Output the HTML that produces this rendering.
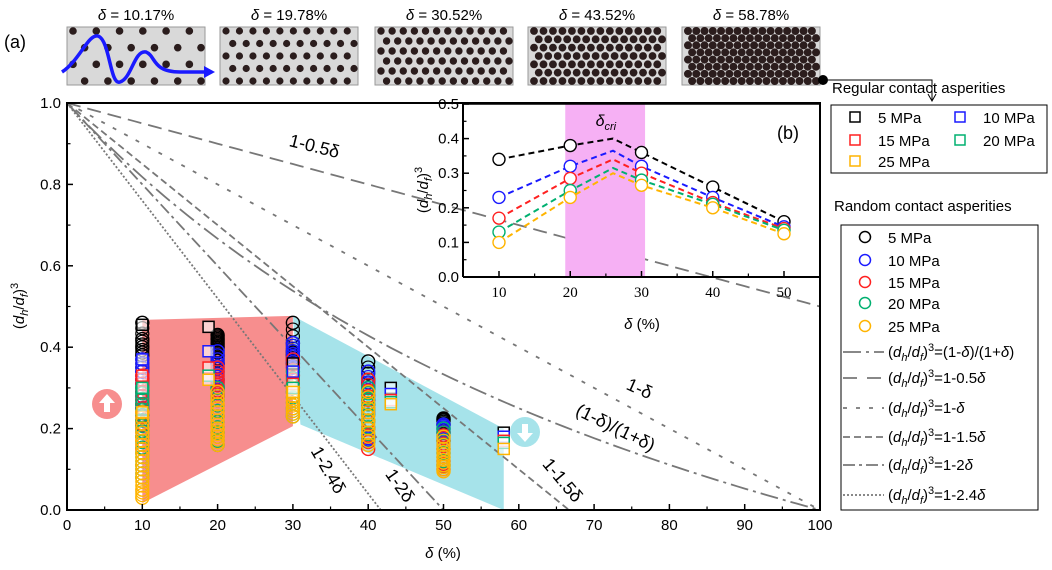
<!DOCTYPE html>
<html><head><meta charset="utf-8"><style>
html,body{margin:0;padding:0;background:#fff;width:1052px;height:570px;overflow:hidden;}
svg{display:block;font-family:"Liberation Sans",Arial,sans-serif;}
</style></head><body>
<svg id="fig" width="1052" height="570" viewBox="0 0 1052 570" xmlns="http://www.w3.org/2000/svg">
<g id="topg"></g>
<g id="main"></g>
<g id="inset"></g>
<g id="legends"></g>
</svg>
<script>
// ---------- data ----------
const panelDeltas = ["10.17","19.78","30.52","43.52","58.78"];
const pressures = ["5 MPa","10 MPa","15 MPa","20 MPa","25 MPa"];
const colors = ["#000000","#1a1aff","#ff2020","#00b070","#ffb400"];
// random asperities (circles), per delta column, per pressure
const randDeltas = [10,20,30,40,50];
const rand5  = [[0.46,0.42,0.40,0.38,0.35,0.32,0.29,0.26],[0.43,0.42,0.41,0.40,0.38,0.36],[0.46,0.41,0.39,0.38,0.36],[0.365,0.32,0.30],[0.225,0.22,0.21]];
const rand10 = [[0.37,0.34,0.31,0.28,0.25,0.22,0.20],[0.39,0.36,0.34,0.32,0.30,0.28],[0.41,0.39,0.37,0.35],[0.34,0.30,0.27,0.24,0.18,0.17],[0.21,0.20,0.19,0.17]];
const rand15 = [[0.33,0.30,0.27,0.24,0.21,0.18,0.15],[0.35,0.32,0.30,0.28],[0.37,0.33,0.30],[0.32,0.28,0.25,0.20,0.15],[0.19,0.17,0.15,0.12,0.10]];
const rand20 = [[0.30,0.26,0.22,0.18,0.14,0.11,0.08],[0.30,0.27,0.23,0.19,0.16],[0.34,0.29,0.25,0.23],[0.30,0.26,0.22,0.17],[0.20,0.17,0.14,0.11]];
const rand25 = [[0.24,0.20,0.17,0.14,0.11,0.08,0.05,0.03],[0.29,0.26,0.23,0.20,0.18,0.16],[0.30,0.27,0.25,0.23],[0.29,0.25,0.22,0.19,0.16],[0.18,0.15,0.13,0.11,0.095]];
// regular asperities (squares)
const regDeltas = [10,18.8,30,43,58];
const reg5  = [0.455,0.45,0.36,0.30,0.19];
const reg10 = [0.37,0.39,0.34,0.285,0.18];
const reg15 = [0.33,0.35,0.31,0.27,0.17];
const reg20 = [0.30,0.33,0.30,0.265,0.165];
const reg25 = [0.24,0.32,0.29,0.26,0.15];
// inset (mean values)
const insetX = [10,20,26,30,40,50];
const inset5  = [0.34,0.38,0.40,0.36,0.26,0.16];
const inset10 = [0.23,0.32,0.365,0.32,0.23,0.145];
const inset15 = [0.17,0.285,0.34,0.30,0.215,0.14];
const inset20 = [0.13,0.25,0.315,0.28,0.21,0.135];
const inset25 = [0.10,0.23,0.30,0.265,0.20,0.125];
const xTicks = [0,10,20,30,40,50,60,70,80,90,100];
const yTicks = [0.0,0.2,0.4,0.6,0.8,1.0];
const insetXTicks = [10,20,30,40,50];
const insetYTicks = [0.0,0.1,0.2,0.3,0.4,0.5];
const lineSlopes = [0.5,1,1.5,2,2.4];

const NS="http://www.w3.org/2000/svg";
function mk(tag,attrs,parent,text){const e=document.createElementNS(NS,tag);for(const k in attrs)e.setAttribute(k,attrs[k]);if(text!==undefined)e.textContent=text;parent.appendChild(e);return e;}

// ---------- top panels ----------
const topG=document.getElementById('topg');
const boxX=[67,220,375,528,682], boxW=138, boxY=27, boxH=58;
const cols=[6,10,12,14,16], rows=[4,5,6,7,8];
panelDeltas.forEach((d,i)=>{
  const g=mk('g',{},topG);
  
  
  mk('rect',{x:boxX[i],y:boxY,width:boxW,height:boxH,fill:'#d9d9d9',stroke:'#999','stroke-width':1},g);
  const t=mk('text',{x:boxX[i]+boxW/2,y:20,'text-anchor':'middle','font-size':15},g);
  
  
  mk('tspan',{'font-style':'italic'},t,'δ');mk('tspan',{},t,' = '+d+'%');
  const nc=cols[i],nr=rows[i];const dx=(boxW-10)/(nc-0.5),dy=(boxH-8)/(nr-1);
  const rad=[3.8,3.6,3.7,3.9,4.0][i];
  for(let c=0;c<nc;c++)for(let k=0;k<nr;k++){
    const off=(k%2)?dx/2:0;
    mk('circle',{cx:boxX[i]+6+c*dx+off,cy:boxY+4+k*dy,r:rad,fill:'#2b1d1d'},g);
  }
});
mk('text',{x:4,y:48,'font-size':18,},topG,'(a)');
mk('path',{d:'M62,72 C80,60 88,34 98,36 C110,40 110,86 120,82 C132,78 134,50 146,52 C156,56 152,72 180,72 L204,72',fill:'none',stroke:'#1a1aff','stroke-width':3.5,},topG);
mk('path',{d:'M204,66 L215,72 L204,78 Z',fill:'#1a1aff'},topG);
mk('circle',{cx:823,cy:80,r:5,fill:'#000'},topG);
mk('path',{d:'M823,80 L932,80 L932,100',fill:'none',stroke:'#000','stroke-width':1},topG);
mk('path',{d:'M928,94 L932,101 L936,94',fill:'none',stroke:'#000','stroke-width':1},topG);

// ---------- main chart ----------
const mainG=document.getElementById('main');
const X0=67,X1=820,Y0=510,Y1=103;
const xs=v=>X0+(v/100)*(X1-X0), ys=v=>Y0-v*(Y0-Y1);
const redFill=[[10,0.467],[30,0.477],[30,0.206],[10,0.017]];
const cyanFill=[[30,0.477],[58,0.2],[58,0.0],[31,0.21]];
let pp=mk('polygon',{points:redFill.map(a=>xs(a[0])+','+ys(a[1])).join(' '),fill:'#f78e8e'},mainG);


pp=mk('polygon',{points:cyanFill.map(a=>xs(a[0])+','+ys(a[1])).join(' '),fill:'#a6e3ea'},mainG);


const dashes={'0.5':'14,7','1':'4,9','1.5':'7,4','2':'12,4,3,4','2.4':'2,2'};
const clipP=mk('clipPath',{id:'mclip'},mainG);mk('rect',{x:X0,y:Y1,width:X1-X0,height:Y0-Y1},clipP);
const lg=mk('g',{'clip-path':'url(#mclip)'},mainG);
lineSlopes.forEach(s=>{
  const pts=[];for(let d=0;d<=100;d+=1){pts.push(xs(d)+','+ys(1-s*d/100));}
  const l=mk('polyline',{points:pts.join(' '),fill:'none',stroke:'#777','stroke-width':1.8,'stroke-dasharray':dashes[String(s)]},lg);
  
  
});
{const pts=[];for(let d=0;d<=100;d+=1){const f=d/100;pts.push(xs(d)+','+ys((1-f)/(1+f)));}
 const l=mk('polyline',{points:pts.join(' '),fill:'none',stroke:'#777','stroke-width':1.8,'stroke-dasharray':'18,5,3,5'},lg);
 
 }
function arrowCircle(cx,cy,fill,up,name){
  const g=mk('g',{},mainG);
  
  
  mk('circle',{cx,cy,r:15,fill},g);
  const s=up?-1:1;
  mk('path',{d:`M${cx-3},${cy-8*s} L${cx+3},${cy-8*s} L${cx+3},${cy+1*s} L${cx+8},${cy+1*s} L${cx},${cy+10*s} L${cx-8},${cy+1*s} L${cx-3},${cy+1*s} Z`,fill:'#fff'},g);
}
arrowCircle(107,404,'#f78e8e',true,'increase-arrow');
arrowCircle(525,432,'#a6e3ea',false,'decrease-arrow');
const randSeries=[rand5,rand10,rand15,rand20,rand25];
randSeries.forEach((ser,pi)=>{
  ser.forEach((vals,ci)=>{
    vals.forEach(v=>{
      const c=mk('circle',{cx:xs(randDeltas[ci]),cy:ys(v),r:6.5,fill:'none',stroke:colors[pi],'stroke-width':1.4},mainG);
      
      
    });
    for(let k=0;k<vals.length-1;k++){const a=vals[k],b=vals[k+1];
      for(let t=1;t<3;t++){const v=a+(b-a)*t/3;
        mk('circle',{cx:xs(randDeltas[ci]),cy:ys(v),r:6.5,fill:'none',stroke:colors[pi],'stroke-width':1.2},mainG);}}
  });
});
const regSeries=[reg5,reg10,reg15,reg20,reg25];
regSeries.forEach((ser,pi)=>{
  ser.forEach((v,ci)=>{
    const r=mk('rect',{x:xs(regDeltas[ci])-5.5,y:ys(v)-5.5,width:11,height:11,fill:'#fff','fill-opacity':0.6,stroke:colors[pi],'stroke-width':1.5},mainG);
    
    
  });
});
function lbl(x,y,rot,text,name){
  const t=mk('text',{x,y,'font-size':18,'text-anchor':'middle',transform:`rotate(${rot} ${x} ${y})`},mainG,text);
  
  
}
lbl(313,152,14,'1-0.5δ','label-1-0.5delta');
lbl(637,394,24,'1-δ','label-1-delta');
lbl(613,433,26,'(1-δ)/(1+δ)','label-ratio');
lbl(558,484,50,'1-1.5δ','label-1-1.5delta');
lbl(395,489,55,'1-2δ','label-1-2delta');
lbl(323,473,60,'1-2.4δ','label-1-2.4delta');
mk('rect',{x:X0,y:Y1,width:X1-X0,height:Y0-Y1,fill:'none',stroke:'#000','stroke-width':2},mainG);
xTicks.forEach(v=>{
  mk('line',{x1:xs(v),x2:xs(v),y1:Y0,y2:Y0-6,stroke:'#000','stroke-width':1.5},mainG);
  if(v<100)mk('line',{x1:xs(v+5),x2:xs(v+5),y1:Y0,y2:Y0-3.5,stroke:'#000','stroke-width':1.2},mainG);
  const t=mk('text',{x:xs(v),y:Y0+20,'font-size':15,'text-anchor':'middle'},mainG,String(v));
  
  
});
yTicks.forEach(v=>{
  mk('line',{x1:X0,x2:X0+6,y1:ys(v),y2:ys(v),stroke:'#000','stroke-width':1.5},mainG);
  if(v<1)mk('line',{x1:X0,x2:X0+3.5,y1:ys(v+0.1),y2:ys(v+0.1),stroke:'#000','stroke-width':1.2},mainG);
  const t=mk('text',{x:X0-6,y:ys(v)+5,'font-size':15,'text-anchor':'end'},mainG,v.toFixed(1));
  
  
});
const DHDF='(<tspan font-style="italic">d</tspan><tspan font-size="11" dy="4" font-style="italic">h</tspan><tspan dy="-4">/</tspan><tspan font-style="italic">d</tspan><tspan font-size="11" dy="4" font-style="italic">f</tspan><tspan dy="-4">)</tspan><tspan font-size="11" dy="-6">3</tspan>';
{const t=mk('text',{x:443,y:558,'font-size':15,'text-anchor':'middle',},mainG);
 t.innerHTML='<tspan font-style="italic">δ</tspan> (%)';}
{const t=mk('text',{x:24,y:306,'font-size':15,'text-anchor':'middle',transform:'rotate(-90 24 306)',},mainG);
 t.innerHTML=DHDF;}

// ---------- inset ----------
const insG=document.getElementById('inset');
const IX0=463,IX1=820,IY0=277,IY1=104;
const ixs=v=>499+(v-10)*(784-499)/40, iys=v=>IY0-v/0.5*(IY0-IY1);
pp=mk('rect',{x:ixs(19.3),y:IY1,width:ixs(30.5)-ixs(19.3),height:IY0-IY1,fill:'#f6b0f4'},insG);


{const t=mk('text',{x:ixs(25),y:126,'font-size':16,'text-anchor':'middle',},insG);
 t.innerHTML='<tspan font-style="italic">δ</tspan><tspan font-size="11" dy="4" font-style="italic">cri</tspan>';}
const insetSeries=[inset5,inset10,inset15,inset20,inset25];
insetSeries.forEach((ser,pi)=>{
  const l=mk('polyline',{points:ser.map((v,i)=>ixs(insetX[i])+','+iys(v)).join(' '),fill:'none',stroke:colors[pi],'stroke-width':2,'stroke-dasharray':'6,4'},insG);
  
  
  ser.forEach((v,i)=>{ if(insetX[i]%10!==0) return;
    const c=mk('circle',{cx:ixs(insetX[i]),cy:iys(v),r:6,fill:'#fff',stroke:colors[pi],'stroke-width':1.4},insG);
    
    
  });
});
mk('line',{x1:IX0,y1:IY1,x2:IX0,y2:IY0,stroke:'#000','stroke-width':2},insG);
mk('line',{x1:IX0,y1:IY0,x2:IX1,y2:IY0,stroke:'#000','stroke-width':2},insG);
mk('line',{x1:IX0,y1:IY1,x2:IX1,y2:IY1,stroke:'#000','stroke-width':1.5},insG);
insetXTicks.forEach(v=>{
  mk('line',{x1:ixs(v),x2:ixs(v),y1:IY0,y2:IY0-6,stroke:'#000','stroke-width':1.5},insG);
  mk('line',{x1:ixs(v+5),x2:ixs(v+5),y1:IY0,y2:IY0-3.5,stroke:'#000','stroke-width':1.2},insG);
  mk('text',{x:ixs(v),y:IY0+20,'font-size':15,'text-anchor':'middle','font-family':'Liberation Serif, serif',},insG,String(v));
});
insetYTicks.forEach(v=>{
  mk('line',{x1:IX0,x2:IX0+6,y1:iys(v),y2:iys(v),stroke:'#000','stroke-width':1.5},insG);
  if(v<0.5)mk('line',{x1:IX0,x2:IX0+3.5,y1:iys(v+0.05),y2:iys(v+0.05),stroke:'#000','stroke-width':1.2},insG);
  mk('text',{x:IX0-4,y:iys(v)+5,'font-size':15,'text-anchor':'end',},insG,v.toFixed(1));
});
mk('text',{x:788,y:139,'font-size':18,'text-anchor':'middle',},insG,'(b)');
{const t=mk('text',{x:642,y:329,'font-size':15,'text-anchor':'middle',},insG);
 t.innerHTML='<tspan font-style="italic">δ</tspan> (%)';}
{const t=mk('text',{x:428,y:190,'font-size':15,'text-anchor':'middle',transform:'rotate(-90 428 190)',},insG);
 t.innerHTML=DHDF;}

// ---------- legends ----------
const legG=document.getElementById('legends');
mk('text',{x:832,y:93,'font-size':15,},legG,'Regular contact asperities');
mk('rect',{x:831,y:105,width:216,height:68,fill:'#fff',stroke:'#000','stroke-width':1},legG);
const regPos=[[855,117],[960,117],[855,140],[960,140],[855,161]];
pressures.forEach((pname,i)=>{
  const g=mk('g',{},legG);
  
  
  mk('rect',{x:regPos[i][0]-5,y:regPos[i][1]-5,width:10,height:10,fill:'none',stroke:colors[i],'stroke-width':1.5},g);
  mk('text',{x:regPos[i][0]+23,y:regPos[i][1]+6,'font-size':15},g,pname);
});
mk('text',{x:834,y:211,'font-size':15,},legG,'Random contact asperities');
mk('rect',{x:841,y:225,width:197,height:285,fill:'#fff',stroke:'#000','stroke-width':1},legG);
const rowY=[237,260,282,303,326];
pressures.forEach((pname,i)=>{
  const g=mk('g',{},legG);
  
  
  mk('circle',{cx:865,cy:rowY[i],r:5.5,fill:'none',stroke:colors[i],'stroke-width':1.5},g);
  mk('text',{x:888,y:rowY[i]+6,'font-size':15},g,pname);
});
const lineRows=[352,378,408,437,465,495];
const lineDash=['18,5,3,5','14,10','4,9','7,4','12,4,3,4','2,2'];
const lineEq=['=(1-<tspan font-style="italic">δ</tspan>)/(1+<tspan font-style="italic">δ</tspan>)','=1-0.5<tspan font-style="italic">δ</tspan>','=1-<tspan font-style="italic">δ</tspan>','=1-1.5<tspan font-style="italic">δ</tspan>','=1-2<tspan font-style="italic">δ</tspan>','=1-2.4<tspan font-style="italic">δ</tspan>'];
lineRows.forEach((y,i)=>{
  const g=mk('g',{},legG);
  
  
  mk('line',{x1:843,x2:884,y1:y,y2:y,stroke:'#777','stroke-width':1.8,'stroke-dasharray':lineDash[i]},g);
  const t=mk('text',{x:888,y:y+5,'font-size':15},g);
  t.innerHTML=DHDF+'<tspan dy="6">'+lineEq[i]+'</tspan>';
});
</script>
</body></html>
